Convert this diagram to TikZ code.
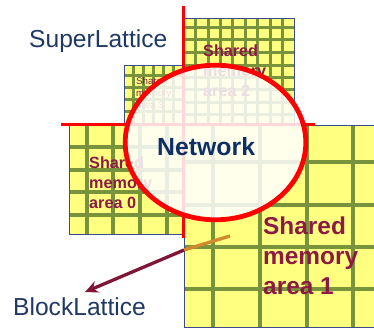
\documentclass[tikz,border=0pt]{standalone}
\usepackage{fontspec}
\setmainfont{Liberation Sans}
\usetikzlibrary{arrows.meta}
\definecolor{cellfill}{HTML}{FFFF80}
\definecolor{gridgreen}{HTML}{77933C}
\definecolor{edgeblue}{HTML}{3B4C8C}
\definecolor{labelblue}{HTML}{1F3864}
\definecolor{netblue}{HTML}{0D2F63}
\definecolor{areared}{HTML}{8C1A45}
\definecolor{arrowred}{HTML}{7F1636}
\definecolor{stubbrown}{HTML}{CF8A2C}

\begin{document}
\begin{tikzpicture}[x=1pt,y=1pt]
		\tikzstyle{blockfill} = [fill=cellfill]
		\tikzstyle{blockedge} = [draw=edgeblue,line width=0.8pt]
		\tikzstyle{gridbars} = [gridgreen,line width=3.3pt]
		\tikzstyle{finebars} = [gridgreen,line width=3pt]
		\tikzstyle{cutline} = [red,line width=3pt]
		\tikzstyle{area} = [areared,align=left,anchor=north west,inner sep=0pt]
		\tikzstyle{lattice} = [labelblue,anchor=base west,inner sep=0pt,font=\fontsize{24.6}{29}\selectfont]
		\useasboundingbox (0,0) rectangle (374,-329);
		% Block 1
		\fill[blockfill] (184,-125) rectangle (380,-327);
		\draw[gridbars] (213,-125) -- (213,-327) (260,-125) -- (260,-327) (307,-125) -- (307,-327) (353,-125) -- (353,-327);
		\draw[gridbars] (184,-162) -- (380,-162) (184,-205) -- (380,-205) (184,-247) -- (380,-247) (184,-289) -- (380,-289);
		\draw[blockedge] (380,-125) -- (184,-125) -- (184,-327) -- (380,-327);
		% Block 0
		\fill[blockfill] (69,-125) rectangle (184,-234);
		\draw[gridbars] (87,-125) -- (87,-234) (113,-125) -- (113,-234) (140,-125) -- (140,-234) (167,-125) -- (167,-234);
		\draw[gridbars] (69,-147) -- (184,-147) (69,-170) -- (184,-170) (69,-192) -- (184,-192) (69,-215) -- (184,-215);
		\draw[blockedge] (69,-125) rectangle (184,-234);
		% Block 2
		\fill[blockfill] (184,-18) rectangle (294,-125);
		\draw[finebars] (195.5,-18) -- (195.5,-125) (208,-18) -- (208,-125) (220,-18) -- (220,-125) (232.5,-18) -- (232.5,-125)
			(245,-18) -- (245,-125) (257,-18) -- (257,-125) (270,-18) -- (270,-125) (282.5,-18) -- (282.5,-125);
		\draw[finebars] (184,-28) -- (294,-28) (184,-40) -- (294,-40) (184,-52.5) -- (294,-52.5) (184,-65) -- (294,-65)
			(184,-77) -- (294,-77) (184,-89.5) -- (294,-89.5) (184,-102) -- (294,-102) (184,-114) -- (294,-114);
		\draw[blockedge] (184,-18) rectangle (294,-125);
		% Block 3
		\fill[blockfill] (124,-65) rectangle (184,-125);
		\draw[finebars] (133,-65) -- (133,-125) (143,-65) -- (143,-125) (153,-65) -- (153,-125) (163,-65) -- (163,-125) (173,-65) -- (173,-125);
		\draw[finebars] (124,-75) -- (184,-75) (124,-87) -- (184,-87) (124,-99) -- (184,-99) (124,-111) -- (184,-111);
		\draw[blockedge] (124,-65) rectangle (184,-125);
		% Shared memory areas
		\node[area,font=\bfseries\fontsize{24.4}{30}\selectfont] at (263,-217)(area1) {Shared\\memory\\area 1};
		\node[area,font=\bfseries\fontsize{16.2}{20}\selectfont] at (89,-157)(area0) {Shared\\memory\\area 0};
		\node[area,font=\bfseries\fontsize{16.2}{20}\selectfont] at (203,-45)(area2) {Shared\\memory\\area 2};
		\node[area,font=\fontsize{9.7}{12}\selectfont] at (136,-77)(area3) {Shared\\memory\\area 3};
		% Cut lines
		\draw[cutline] (183,-6) -- (183,-238);
		\draw[cutline] (61,-124) -- (315,-124);
		% Network
		\fill[white,opacity=0.85] (215.5,-142.5) ellipse [x radius=90.3, y radius=77.3];
		\draw[red,line width=4.8pt] (215.5,-142.5) ellipse [x radius=90.3, y radius=77.3];
		\node[netblue,anchor=base west,inner sep=0pt,font=\bfseries\fontsize{24.8}{30}\selectfont] at (157,-155)(net) {Network};
		% Labels
		\node[lattice] at (29,-48)(super) {SuperLattice};
		\node[lattice] at (13,-315)(block) {BlockLattice};
		% Arrow
		\coordinate (stub) at (230,-236);
		\coordinate (exit) at (184,-250);
		\coordinate (tip) at (85,-292);
		\draw[stubbrown,line width=3.3pt] (stub) -- (exit);
		\draw[arrowred,line width=3.3pt,-{Stealth[length=13pt,width=12pt]}] (exit) -- (tip);
\end{tikzpicture}
\end{document}
